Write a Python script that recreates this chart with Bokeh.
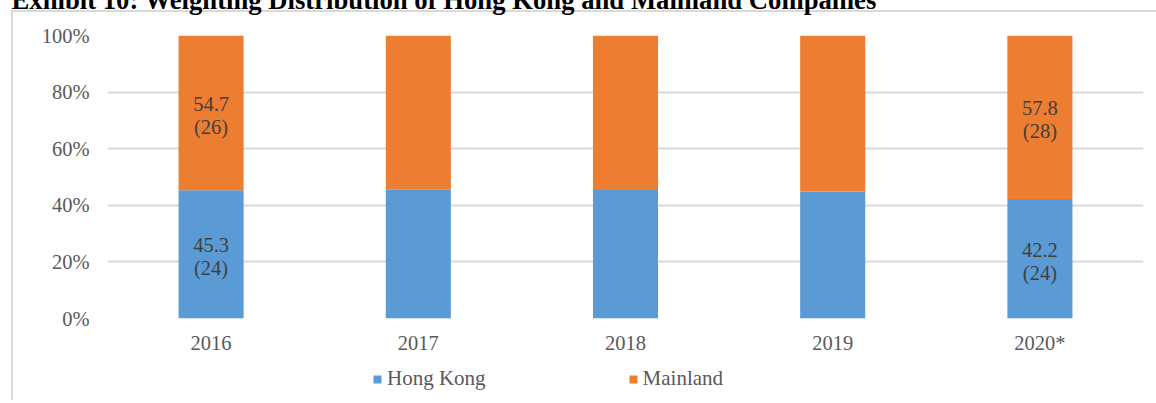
from bokeh.plotting import figure
from bokeh.layouts import column
from bokeh.models import (ColumnDataSource, FactorRange, Range1d, FixedTicker,
                          Legend, LegendItem)
from bokeh.core.properties import value
from bokeh.embed import file_html
from bokeh.resources import INLINE

# ---- data ----
years = ["2016", "2017", "2018", "2019", "2020*"]
hong_kong = [45.3, 45.7, 45.4, 44.9, 42.2]
mainland = [54.7, 54.3, 54.6, 55.1, 57.8]
hk_counts = [24, None, None, None, 24]
ml_counts = [26, None, None, None, 28]
y_ticks = [0, 20, 40, 60, 80, 100]
y_tick_labels = ["0%", "20%", "40%", "60%", "80%", "100%"]
series_names = ["Hong Kong", "Mainland"]
title_text = "Exhibit 10: Weighting Distribution of Hong Kong and Mainland Companies"

BLUE = "#5B9BD5"
ORANGE = "#ED7D31"
GRID = "#d9d9d9"
FONT = "Liberation Serif"
SHIFT = 60  # part of the main figure hidden above the page top (title is cut off)
LINE_BG = "linear-gradient(#d9d9d9, #d9d9d9)"

src = ColumnDataSource(dict(year=years, hk=hong_kong, ml=mainland))
xr = FactorRange(*years, range_padding=0)

p = figure(x_range=xr, y_range=Range1d(0, 100),
           width=1156, height=356 + SHIFT, output_backend="svg", toolbar_location=None,
           min_border_left=107, min_border_right=13, min_border_top=35 + SHIFT,
           min_border_bottom=36)
p.outline_line_color = None
p.background_fill_color = "white"
p.border_fill_alpha = 0
p.styles = {
    "margin-top": f"-{SHIFT}px",
    "background-color": "white",
    "background-image": f"{LINE_BG}, {LINE_BG}",
    "background-repeat": "no-repeat",
    "background-size": "2px 100%, 100% 2px",
    "background-position": f"11px {11 + SHIFT}px, 11px {10 + SHIFT}px",
}

# title (mostly cut off at the top, as in the reference)
p.title.text = title_text
p.title.text_font = FONT
p.title.text_font_style = "bold"
p.title.text_font_size = "26.7px"
p.title.text_color = "black"
p.title.align = "left"
p.title.vertical_align = "bottom"
p.title.offset = -96
p.title.standoff = 41

rs = p.vbar_stack(["hk", "ml"], x="year", width=0.314, color=[BLUE, ORANGE],
                  line_color=None, source=src)

# bar labels
lx, ly, lv, lc = [], [], [], []
for yr, hk, ml, hc, mc in zip(years, hong_kong, mainland, hk_counts, ml_counts):
    if hc is not None:
        lx.append(yr); ly.append(hk / 2); lv.append(f"{hk}"); lc.append(f"({hc})")
    if mc is not None:
        lx.append(yr); ly.append(hk + ml / 2); lv.append(f"{ml}"); lc.append(f"({mc})")
lsrc = ColumnDataSource(dict(x=lx, y=ly, v=lv, c=lc))
for col, off in (("v", -9), ("c", 14)):
    p.text(x="x", y="y", text=col, source=lsrc, text_align="center",
           text_baseline="middle", y_offset=off, text_font=value(FONT),
           text_font_size="20.5px", text_color="#404040")

# axes / grid
p.xgrid.grid_line_color = None
p.ygrid.ticker = FixedTicker(ticks=y_ticks)
p.ygrid.grid_line_color = GRID
p.ygrid.grid_line_width = 2
p.yaxis.ticker = FixedTicker(ticks=y_ticks)
p.yaxis.major_label_overrides = dict(zip(y_ticks, y_tick_labels))
for ax in (p.xaxis, p.yaxis):
    ax.axis_line_color = None
    ax.major_tick_line_color = None
    ax.minor_tick_line_color = None
    ax.major_label_text_font = FONT
    ax.major_label_text_font_size = "20.5px"
    ax.major_label_text_color = "#595959"
p.yaxis.major_label_standoff = 12
p.xaxis.major_label_standoff = 7

# ---- legend strip below the chart (its frame is aligned with the chart's) ----
pl = figure(width=1156, height=44, output_backend="svg", toolbar_location=None,
            x_range=xr, y_range=Range1d(-300, -200),
            x_axis_location=None, y_axis_location=None,
            min_border_left=107, min_border_right=13, min_border_top=0,
            min_border_bottom=0)
pl.grid.visible = False
pl.outline_line_color = None
pl.background_fill_alpha = 0
pl.border_fill_alpha = 0
pl.styles = {
    "background-color": "white",
    "background-image": LINE_BG,
    "background-repeat": "no-repeat",
    "background-size": "2px 100%",
    "background-position": "11px 0px",
}
# same stacked series, not drawn in this strip -> only used as legend swatches
keys = pl.vbar_stack(["hk", "ml"], x="year", width=0.314, color=[BLUE, ORANGE],
                     line_color=None, source=src)
for k in keys:
    k.visible = False
legend = Legend(items=[LegendItem(label=series_names[0], renderers=[keys[0]]),
                       LegendItem(label=series_names[1], renderers=[keys[1]])],
                location=(265, 9), orientation="horizontal",
                glyph_width=10, glyph_height=10, label_standoff=5, spacing=142,
                padding=0, margin=0, border_line_color=None,
                background_fill_alpha=0, inactive_fill_alpha=0,
                label_text_font=FONT,
                label_text_font_size="21px", label_text_color="#595959")
pl.add_layout(legend)

page = column(p, pl, spacing=0)
open("out.html", "w").write(file_html(page, INLINE))
